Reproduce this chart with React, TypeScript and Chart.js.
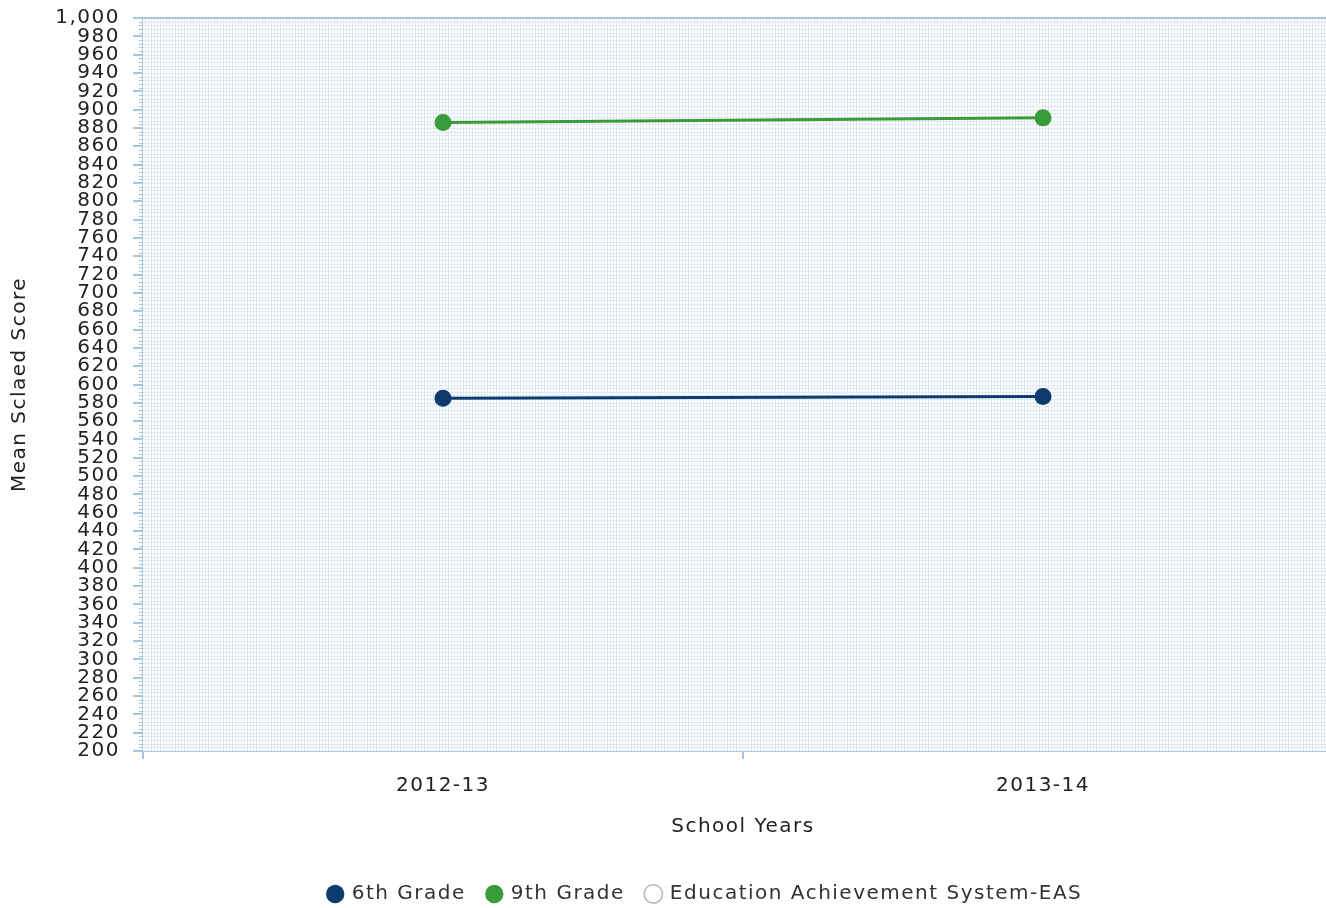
import React, { useEffect, useRef } from "react";
import { Chart, registerables } from "chart.js";

Chart.register(...registerables);

const schoolYears = ["2012-13", "2013-14"];
const sixthGrade = [585, 587];
const ninthGrade = [886, 891];
const easScores: (number | null)[] = [null, null];
const seriesNames = ["6th Grade", "9th Grade", "Education Achievement System-EAS"];
const yMin = 200;
const yMax = 1000;
const yStep = 20;

const FONT = "'DejaVu Sans', Verdana, sans-serif";
const AXIS = "#a9c5db";
const TEXT = "#333333";
const TICK_TEXT = "#222222";
const SPACING = "1.5px";
const LEGEND_SHIFT_X = 30;
const LEGEND_SHIFT_Y = 6;

const spacingPlugin = {
  id: "letterSpacing",
  beforeUpdate(chart: any) {
    (chart.ctx as any).letterSpacing = SPACING;
  },
  beforeLayout(chart: any) {
    (chart.ctx as any).letterSpacing = SPACING;
  },
  afterLayout(chart: any) {
    const lg = chart.legend;
    if (lg) {
      lg.left += LEGEND_SHIFT_X;
      lg.right += LEGEND_SHIFT_X;
      lg.top += LEGEND_SHIFT_Y;
      lg.bottom += LEGEND_SHIFT_Y;
    }
  },
  beforeDraw(chart: any) {
    (chart.ctx as any).letterSpacing = SPACING;
  },
};

const backgroundPlugin = {
  id: "plotBackground",
  beforeDatasetsDraw(chart: any) {
    const { ctx, chartArea, scales } = chart;
    const { left, right, top, bottom } = chartArea;
    ctx.save();
    ctx.fillStyle = "#ffffff";
    ctx.fillRect(left, top, right - left, bottom - top);
    ctx.strokeStyle = "#e0e8f2";
    ctx.lineWidth = 1;
    ctx.beginPath();
    for (let x = left + 2; x < right; x += 3) {
      ctx.moveTo(Math.floor(x) + 0.5, top);
      ctx.lineTo(Math.floor(x) + 0.5, bottom);
    }
    const y = scales.y;
    for (let v = yMin + 4; v < yMax; v += 4) {
      const py = Math.round(y.getPixelForValue(v)) + 0.5;
      ctx.moveTo(left, py);
      ctx.lineTo(right, py);
    }
    ctx.stroke();
    ctx.strokeStyle = AXIS;
    ctx.lineWidth = 2;
    ctx.beginPath();
    ctx.moveTo(left, top);
    ctx.lineTo(right, top);
    ctx.stroke();
    ctx.lineWidth = 1;
    ctx.beginPath();
    for (let v = yMin; v <= yMax; v += 4) {
      if ((v - yMin) % yStep === 0) continue;
      const py = Math.round(y.getPixelForValue(v)) + 0.5;
      ctx.moveTo(left - 4, py);
      ctx.lineTo(left, py);
    }
    ctx.stroke();
    ctx.restore();
  },
};

export default function App() {
  const canvasRef = useRef<HTMLCanvasElement | null>(null);

  useEffect(() => {
    document.body.style.overflow = "hidden";
    const canvas = canvasRef.current;
    if (!canvas) return;
    const chart = new Chart(canvas, {
      type: "line",
      data: {
        labels: schoolYears,
        datasets: [
          {
            label: seriesNames[0],
            data: sixthGrade,
            borderColor: "#0d3b6c",
            backgroundColor: "#0d3b6c",
            pointBackgroundColor: "#0d3b6c",
            pointBorderColor: "#0d3b6c",
            borderWidth: 3,
            pointRadius: 7,
            pointStyle: "circle",
          },
          {
            label: seriesNames[1],
            data: ninthGrade,
            borderColor: "#3a9b3a",
            backgroundColor: "#3a9b3a",
            pointBackgroundColor: "#3a9b3a",
            pointBorderColor: "#3a9b3a",
            borderWidth: 3,
            pointRadius: 7,
            pointStyle: "circle",
          },
          {
            label: seriesNames[2],
            data: easScores,
            borderColor: "#b5b5b5",
            backgroundColor: "#ffffff",
            borderWidth: 1.5,
            pointRadius: 7,
            pointStyle: "circle",
          },
        ],
      },
      options: {
        animation: false,
        responsive: true,
        maintainAspectRatio: false,
        layout: { padding: { left: 8, top: 0, right: 17, bottom: 0 } },
        plugins: {
          tooltip: { enabled: false },
          legend: {
            position: "bottom",
            labels: {
              usePointStyle: true,
              boxWidth: 13,
              boxHeight: 13,
              padding: 22,
              color: TEXT,
              font: { family: FONT, size: 20 },
              generateLabels(chart: any) {
                const items = Chart.defaults.plugins.legend.labels.generateLabels(chart);
                items.forEach((it: any) => {
                  it.lineWidth = it.datasetIndex === 2 ? 1.5 : 0;
                  it.pointStyle = "circle";
                });
                return items;
              },
            },
          },
        },
        scales: {
          x: {
            type: "category",
            offset: true,
            afterFit(s: any) {
              s.height = 105;
            },
            grid: {
              offset: true,
              drawOnChartArea: false,
              drawTicks: true,
              tickLength: 8,
              color: AXIS,
              lineWidth: 2,
            },
            border: { color: AXIS, width: 2 },
            ticks: {
              color: TICK_TEXT,
              font: { family: FONT, size: 20 },
              padding: 15,
              maxRotation: 0,
            },
            title: {
              display: true,
              text: "School Years",
              color: TICK_TEXT,
              font: { family: FONT, size: 20 },
              padding: { top: 4, bottom: 17 },
            },
          },
          y: {
            min: yMin,
            max: yMax,
            afterFit(s: any) {
              s.width = 135;
              s.paddingTop = 18;
              s.paddingBottom = 0;
            },
            grid: {
              drawOnChartArea: false,
              drawTicks: true,
              tickLength: 10,
              color: AXIS,
              lineWidth: 2,
            },
            border: { color: AXIS, width: 2 },
            ticks: {
              stepSize: yStep,
              autoSkip: false,
              color: TICK_TEXT,
              font: { family: FONT, size: 20 },
              padding: 13,
            },
            title: {
              display: true,
              text: "Mean Sclaed Score",
              color: TICK_TEXT,
              font: { family: FONT, size: 20 },
              padding: 0,
            },
          },
        },
      },
      plugins: [spacingPlugin, backgroundPlugin],
    });
    return () => chart.destroy();
  }, []);

  return (
    <div style={{ position: "fixed", left: 0, top: 0, width: 1326, height: 908, overflow: "hidden" }}>
      <div style={{ position: "relative", width: 1360, height: 908 }}>
        <canvas ref={canvasRef} />
      </div>
    </div>
  );
}
